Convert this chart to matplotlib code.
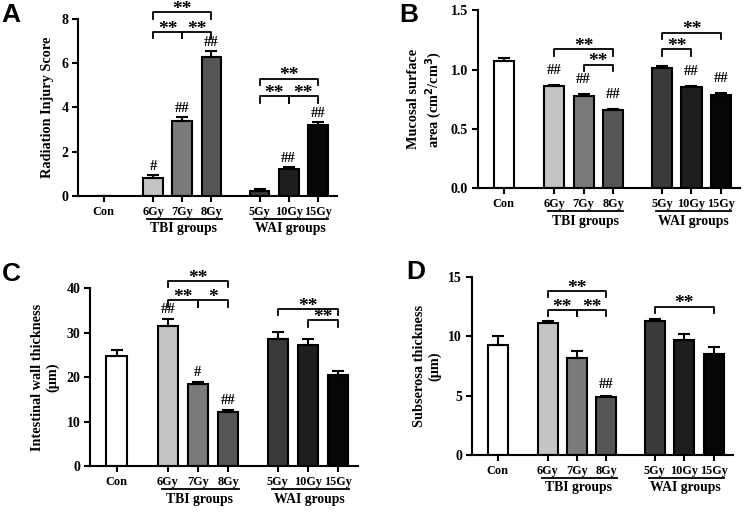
import numpy as np
import matplotlib
matplotlib.use("Agg")
import matplotlib.pyplot as plt
import matplotlib.transforms as mtransforms

plt.rcParams['font.family'] = ['Liberation Serif', 'DejaVu Serif']
plt.rcParams['font.weight'] = 'bold'
plt.rcParams['axes.labelweight'] = 'bold'

# data
groups = ['Con', '6Gy', '7Gy', '8Gy', '5Gy', '10Gy', '15Gy']
bar_colors = ['#ffffff', '#c4c4c4', '#7a7a7a', '#555555', '#3a3a3a', '#1e1e1e', '#060606']
xpos = [0, 1.7, 2.7, 3.7, 5.35, 6.35, 7.35]

score_mean = [0.0, 0.8, 3.4, 6.3, 0.2, 1.2, 3.2]
score_err = [0.0, 0.15, 0.15, 0.25, 0.1, 0.12, 0.12]
score_hash = ['', '#', '##', '##', '', '##', '##']

area_mean = [1.07, 0.86, 0.78, 0.655, 1.01, 0.85, 0.785]
area_err = [0.03, 0.01, 0.015, 0.01, 0.02, 0.01, 0.015]
area_hash = ['', '##', '##', '##', '', '##', '##']

wall_mean = [24.8, 31.6, 18.5, 12.3, 28.7, 27.3, 20.5]
wall_err = [1.3, 1.5, 0.4, 0.3, 1.5, 1.2, 1.0]
wall_hash = ['', '##', '#', '##', '', '', '']

sub_mean = [9.3, 11.1, 8.2, 4.9, 11.3, 9.7, 8.5]
sub_err = [0.7, 0.2, 0.6, 0.1, 0.15, 0.5, 0.6]
sub_hash = ['', '', '', '##', '', '', '']

# brackets: (from bar, to bar, height, label)
score_br = [(1, 3, 8.3, '**'), (1, 2, 7.4, '**'), (2, 3, 7.4, '**'),
            (4, 6, 5.3, '**'), (4, 5, 4.5, '**'), (5, 6, 4.5, '**')]
area_br = [(1, 3, 1.17, '**'), (2, 3, 1.04, '**'), (4, 6, 1.31, '**'), (4, 5, 1.17, '**')]
wall_br = [(1, 3, 41.6, '**'), (1, 2, 37.3, '**'), (2, 3, 37.3, '*'),
           (4, 6, 35.3, '**'), (5, 6, 32.8, '**')]
sub_br = [(1, 3, 13.8, '**'), (1, 2, 12.2, '**'), (2, 3, 12.2, '**'), (4, 6, 12.5, '**')]

fig = plt.figure(figsize=(7.5, 5.14), dpi=100)


def panel(rect, mean, err, hashes, brackets, ymax, ystep, ylabel, letter, letter_xy,
          fmt='%d', hash_pad=3.5):
    ax = fig.add_axes(rect)
    ax.bar(xpos, mean, width=0.68, color=bar_colors, edgecolor='black', linewidth=1.5, zorder=2)
    ax.errorbar(xpos, mean, yerr=[np.zeros(len(err)), err], fmt='none', ecolor='black',
                elinewidth=1.5, capsize=4, capthick=1.5, zorder=3)
    ax.set_xlim(-0.88, 8.0)
    ax.set_ylim(0, ymax)
    ax.set_yticks(np.arange(0, ymax + ystep / 2, ystep))
    ax.yaxis.set_major_formatter(plt.FormatStrFormatter(fmt))
    ax.set_xticks(xpos)
    ax.set_xticklabels(groups, fontsize=8.8)
    ax.tick_params(axis='y', labelsize=10)
    ax.tick_params(width=1.5, length=4, pad=3)
    for s in ['top', 'right']:
        ax.spines[s].set_visible(False)
    for s in ['left', 'bottom']:
        ax.spines[s].set_linewidth(1.5)
    ax.set_ylabel(ylabel, fontsize=10.3, labelpad=5)

    for x, m, e, h in zip(xpos, mean, err, hashes):
        if h:
            ax.annotate(h, (x, m + e), xytext=(0, hash_pad), textcoords='offset points',
                        ha='center', va='bottom', fontsize=10.5)
    for i, j, h, lab in brackets:
        d = ymax * 0.035
        ax.plot([xpos[i], xpos[i], xpos[j], xpos[j]], [h - d, h, h, h - d],
                color='black', lw=1.3, clip_on=False)
        ax.annotate(lab, ((xpos[i] + xpos[j]) / 2, h), xytext=(0, -1),
                    textcoords='offset points', ha='center', va='baseline',
                    fontsize=14, annotation_clip=False)

    # group underlines
    tr_line = mtransforms.offset_copy(ax.get_xaxis_transform(), fig=fig, y=-0.23, units='inches')
    tr_text = mtransforms.offset_copy(ax.get_xaxis_transform(), fig=fig, y=-0.265, units='inches')
    for a, b, name in [(1, 3, 'TBI groups'), (4, 6, 'WAI groups')]:
        ax.plot([xpos[a] - 0.2, xpos[b] + 0.35], [0, 0], color='black', lw=1.3,
                transform=tr_line, clip_on=False)
        ax.text((xpos[a] + xpos[b]) / 2 + 0.05, 0, name, ha='center', va='top',
                fontsize=9.8, transform=tr_text)
    fig.text(letter_xy[0], letter_xy[1], letter, fontsize=19, fontweight='bold',
             family=['Liberation Sans', 'DejaVu Sans'], ha='left', va='top')
    return ax


panel([0.104, 0.619, 0.345, 0.344], score_mean, score_err, score_hash, score_br,
      8, 2, 'Radiation Injury Score', 'A', (0.002, 0.995), hash_pad=1.5)
panel([0.637, 0.634, 0.350, 0.346], area_mean, area_err, area_hash, area_br,
      1.5, 0.5, 'Mucosal surface\narea (cm$^\\mathbf{2}$/cm$^\\mathbf{3}$)', 'B', (0.532, 0.995),
      fmt='%.1f', hash_pad=6)
panel([0.120, 0.093, 0.357, 0.346], wall_mean, wall_err, wall_hash, wall_br,
      40, 10, 'Intestinal wall thickness\n(\u03bcm)', 'C', (0.002, 0.49), hash_pad=2.5)
panel([0.629, 0.115, 0.348, 0.346], sub_mean, sub_err, sub_hash, sub_br,
      15, 5, 'Subserosa thickness\n(\u03bcm)', 'D', (0.542, 0.495), hash_pad=3.5)

fig.savefig('out.png', dpi=100)
